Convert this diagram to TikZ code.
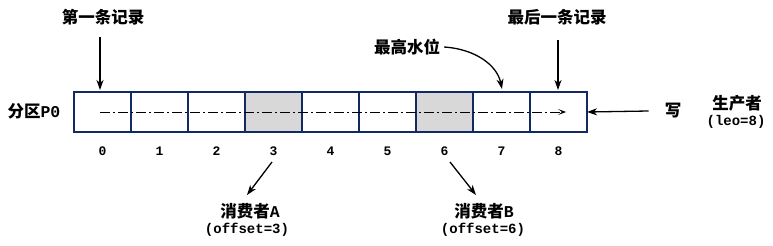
\documentclass[tikz,border=0pt]{standalone}
\usepackage{fontspec}
\setmonofont{Liberation Mono}
\newfontfamily\cjk{Noto Sans CJK SC}
\usetikzlibrary{arrows.meta}
\definecolor{navy}{HTML}{112A66}
\definecolor{shade}{HTML}{D8D8D8}
\begin{document}
\begin{tikzpicture}[x=1pt,y=-1pt,
  cell/.style={draw=navy,line width=2.4pt,minimum width=57pt,minimum height=40pt,inner sep=0pt,outer sep=0pt},
  lbl/.style={inner sep=0pt,font=\cjk\bfseries\fontsize{16.5}{18}\selectfont},
  mono/.style={inner sep=0pt,font=\ttfamily\bfseries\fontsize{14}{16}\selectfont},
  num/.style={inner sep=0pt,font=\ttfamily\bfseries\fontsize{13}{14}\selectfont},
  arr/.style={-{Stealth[length=10pt,width=7pt,inset=3pt]},line width=1.3pt},
  dashdot/.style={line width=0.8pt,dash pattern=on 10pt off 3pt on 2pt off 3pt,-{Stealth[length=8pt,width=6pt,inset=4pt]}}
]
\path[use as bounding box] (0,0) rectangle (773,246);
\foreach \i in {0,...,8}{
  \node[cell] (c\i) at ({102.5+57*\i},112) {};
  \node[num] (n\i) at ({102.5+57*\i},151) {\i};
}
\node[cell,fill=shade] (s3) at (c3) {};
\node[cell,fill=shade] (s6) at (c6) {};
% dash-dot flow line
\coordinate (ds) at (100,112);
\coordinate (de) at (566,112);
\draw[dashdot] (ds) -- (de);
% labels
\node[lbl] (part) at (34,111) {分区{\ttfamily\bfseries P0}};
\node[lbl] (first) at (103,17) {第一条记录};
\node[lbl] (last) at (557,17) {最后一条记录};
\node[lbl] (hw) at (407,47) {最高水位};
\node[lbl] (write) at (673,111) {写};
\node[lbl] (prod) at (737,103) {生产者};
\node[mono] (leo) at (736,122) {(leo=8)};
\node[lbl] (ca) at (250,211) {消费者{\ttfamily\bfseries A}};
\node[mono] (oa) at (247,230) {(offset=3)};
\node[lbl] (cb) at (484,211) {消费者{\ttfamily\bfseries B}};
\node[mono] (ob) at (483,230) {(offset=6)};
% arrows
\coordinate (fa) at (100,37);
\coordinate (fb) at (100,90);
\draw[arr] (fa) -- (fb);
\coordinate (la) at (558,40);
\coordinate (lb) at (558,90);
\draw[arr] (la) -- (lb);
\coordinate (hb) at (502,89);
\draw[arr] ([xshift=4pt]hw.east) .. controls (475,49) and (497,65) .. (hb);
\draw[arr] (write.west) ++(-16,0) coordinate (wa) -- (c8.east);
\coordinate (aa) at (272,162);
\coordinate (ab) at (247,195);
\draw[arr] (aa) -- (ab);
\coordinate (ba) at (450,162);
\coordinate (bb) at (476,195);
\draw[arr] (ba) -- (bb);
\end{tikzpicture}
\end{document}
